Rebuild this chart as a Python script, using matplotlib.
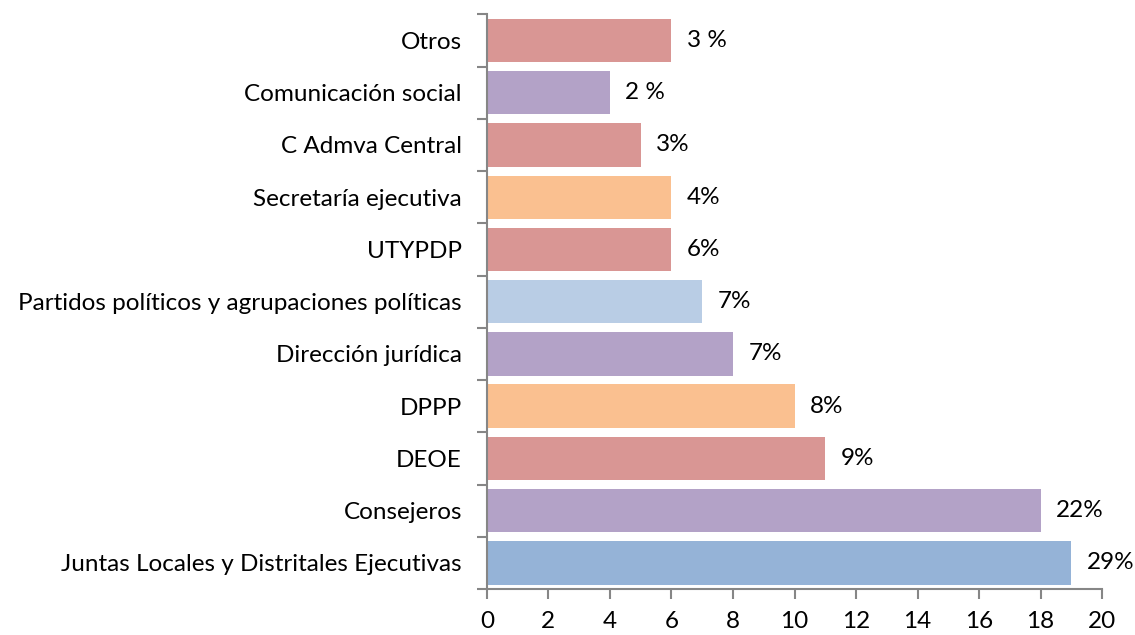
import numpy as np
import matplotlib.pyplot as plt

categories = ['Juntas Locales y Distritales Ejecutivas', 'Consejeros', 'DEOE', 'DPPP',
              'Dirección jurídica', 'Partidos políticos y agrupaciones políticas',
              'UTYPDP', 'Secretaría ejecutiva', 'C Admva Central',
              'Comunicación social', 'Otros']
values = [19, 18, 11, 10, 8, 7, 6, 6, 5, 4, 6]
pct_labels = ['29%', '22%', '9%', '8%', '7%', '7%', '6%', '4%', '3%', '2 %', '3 %']
colors = ['#95B3D7', '#B3A2C7', '#D99694', '#FAC090', '#B3A2C7', '#B9CDE5',
          '#D99694', '#FAC090', '#D99694', '#B3A2C7', '#D99694']

plt.rcParams['font.family'] = ['Lato', 'DejaVu Sans']
fs = 17.5

fig = plt.figure(figsize=(11.35, 6.35), dpi=100)
ax = fig.add_axes([0.429, 0.0724, 0.542, 0.905])

y = np.arange(len(categories))
ax.barh(y, values, height=0.83, color=colors)

for yi, v, lab in zip(y, values, pct_labels):
    ax.text(v + 0.5, yi, lab, va='center', ha='left', fontsize=fs)

ax.set_xlim(0, 20)
ax.set_ylim(-0.5, len(categories) - 0.5)
ax.set_xticks(np.arange(0, 21, 2))
ax.set_yticks(y)
ax.set_yticklabels(categories)
ax.set_yticks(np.arange(-0.5, len(categories), 1), minor=True)

grey = '#868686'
for side in ['top', 'right']:
    ax.spines[side].set_visible(False)
for side in ['left', 'bottom']:
    ax.spines[side].set_color(grey)
    ax.spines[side].set_linewidth(1.5)

ax.tick_params(axis='y', which='major', length=0, pad=18, labelsize=fs)
ax.tick_params(axis='y', which='minor', length=7, width=1.5, color=grey)
ax.tick_params(axis='x', which='major', length=7, width=1.5, color=grey,
               pad=9, labelsize=fs)

fig.savefig('out.png', dpi=100)
